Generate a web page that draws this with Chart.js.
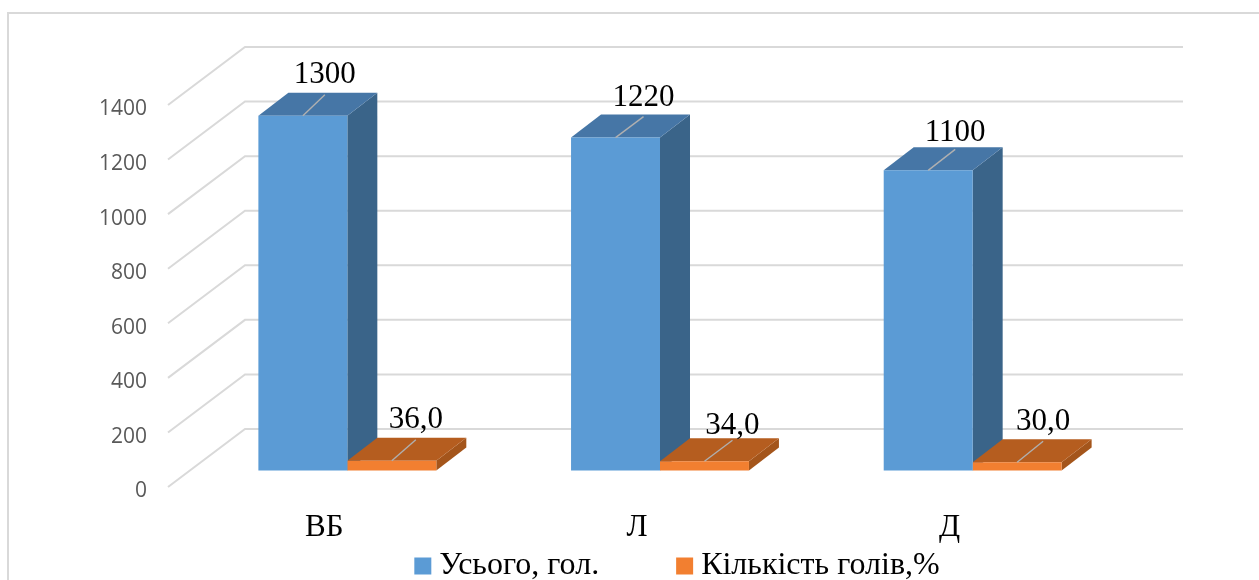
<!DOCTYPE html>
<html lang="uk">
<head>
<meta charset="utf-8">
<title>Поголів'я за групами</title>
<script src="https://cdn.jsdelivr.net/npm/chart.js@4/dist/chart.umd.js"></script>
<style>
  html, body { margin: 0; padding: 0; background: #fff; overflow: hidden; }
  canvas { display: block; }
</style>
</head>
<body>
<canvas id="chart" width="1259" height="580"></canvas>
<script>
const categories = ['ВБ', 'Л', 'Д'];
const seriesNames = ['Усього, гол.', 'Кількість голів,%'];
const totalHead = [1300, 1220, 1100];
const sharePercent = [36.0, 34.0, 30.0];
const yTicks = [0, 200, 400, 600, 800, 1000, 1200, 1400];

// Projection of the 3D box: the walls start slightly above the tick labels' plot
// line, then recede; the bars stand part-way into the box and have their own depth.
const FRONT_LIFT = -4.5;
const WALL_DEPTH = { dx: 77, dy: -58 };
const BAR_SHIFT = { dx: 23, dy: -16.5 + FRONT_LIFT };
const BAR_DEPTH = { dx: 30, dy: -23 };

const SERIF = '"Liberation Serif", "Times New Roman", serif';
const FACE_COLORS = [
  { front: '#5b9bd5', top: '#4676a6', side: '#3a6489' },
  { front: '#f27f30', top: '#b55d1f', side: '#a4551b' }
];
// Fine placement of each value label relative to its bar's front-top centre.
const LABEL_NUDGE = [
  [[22, -40.5], [28, -39.5], [27, -37.5]],
  [[24, -40.5], [28, -35.5], [26, -40.5]]
];

function poly(ctx, points, fill) {
  ctx.beginPath();
  points.forEach(([x, y], i) => (i ? ctx.lineTo(x, y) : ctx.moveTo(x, y)));
  ctx.closePath();
  ctx.fillStyle = fill;
  ctx.fill();
}

const box3d = {
  id: 'box3d',
  beforeDatasetsDraw(chart) {
    const { ctx, chartArea: a, scales: { y } } = chart;
    ctx.save();

    // Frame and receding gridlines.
    ctx.strokeStyle = '#d9d9d9';
    ctx.lineWidth = 2;
    ctx.beginPath();
    ctx.moveTo(8, 580);
    ctx.lineTo(8, 13);
    ctx.lineTo(1259, 13);
    ctx.stroke();
    yTicks.forEach(t => {
      const py = y.getPixelForValue(t) + FRONT_LIFT;
      ctx.beginPath();
      ctx.moveTo(a.left, py);
      ctx.lineTo(a.left + WALL_DEPTH.dx, py + WALL_DEPTH.dy);
      ctx.lineTo(a.right + WALL_DEPTH.dx, py + WALL_DEPTH.dy);
      ctx.stroke();
    });

    // Side and top faces, series by series, below every front face.
    ctx.translate(BAR_SHIFT.dx, BAR_SHIFT.dy);
    chart.data.datasets.forEach((ds, di) => {
      const colors = FACE_COLORS[di];
      chart.getDatasetMeta(di).data.forEach(bar => {
        const l = bar.x - bar.width / 2, r = bar.x + bar.width / 2;
        const t = bar.y, b = bar.base;
        const { dx, dy } = BAR_DEPTH;
        poly(ctx, [[r, t], [r + dx, t + dy], [r + dx, b + dy], [r, b]], colors.side);
        poly(ctx, [[l, t], [l + dx, t + dy], [r + dx, t + dy], [r, t]], colors.top);
      });
    });
    ctx.restore();
  },
  // Front faces are the library's own bars, moved into the box.
  beforeDatasetDraw(chart) {
    chart.ctx.save();
    chart.ctx.translate(BAR_SHIFT.dx, BAR_SHIFT.dy);
  },
  afterDatasetDraw(chart) {
    chart.ctx.restore();
  },
  // Leader lines and value labels go on top of the finished bars.
  afterDatasetsDraw(chart) {
    const { ctx } = chart;
    ctx.save();
    chart.data.datasets.forEach((ds, di) => {
      chart.getDatasetMeta(di).data.forEach((bar, i) => {
        const cx = bar.x + BAR_SHIFT.dx, top = bar.y + BAR_SHIFT.dy;
        const [nx, ny] = LABEL_NUDGE[di][i];
        ctx.strokeStyle = '#b0b0b0';
        ctx.lineWidth = 1.4;
        ctx.beginPath();
        ctx.moveTo(cx, top);
        ctx.lineTo(cx + nx, top - 21);
        ctx.stroke();
        ctx.fillStyle = '#000';
        ctx.font = '31px ' + SERIF;
        ctx.textAlign = 'center';
        ctx.textBaseline = 'middle';
        const v = ds.data[i];
        const text = di === 0 ? String(v) : v.toFixed(1).replace('.', ',');
        ctx.fillText(text, cx + nx, top + ny);
      });
    });
    ctx.restore();
  },
  // The legend is centred under the whole picture, low in the frame.
  afterLayout(chart) {
    const legend = chart.legend;
    legend.left += 128;
    legend.right += 128;
    legend.top = 565 - 85 - 15;
  }
};

new Chart(document.getElementById('chart'), {
  type: 'bar',
  data: {
    labels: categories,
    datasets: [
      { label: seriesNames[0], data: totalHead, backgroundColor: FACE_COLORS[0].front, clip: false },
      { label: seriesNames[1], data: sharePercent, backgroundColor: FACE_COLORS[1].front, clip: false }
    ]
  },
  options: {
    responsive: false,
    animation: false,
    events: [],
    layout: { padding: { left: 0, right: 153, top: 109.5, bottom: 0 } },
    datasets: { bar: { categoryPercentage: 0.569, barPercentage: 1 } },
    scales: {
      x: {
        grid: { display: false },
        border: { display: false },
        ticks: { color: '#000', font: { family: SERIF, size: 31 }, padding: 10 },
        afterFit(scale) { scale.height = 58.5; }
      },
      y: {
        min: 0,
        max: 1400,
        afterBuildTicks(scale) { scale.ticks = yTicks.map(value => ({ value })); },
        grid: { display: false },
        border: { display: false },
        ticks: {
          color: '#595959',
          font: { family: '"Open Sans"', size: 21 },
          padding: 13,
          callback: value => String(value)
        },
        afterFit(scale) { scale.width = 168; }
      }
    },
    plugins: {
      tooltip: { enabled: false },
      legend: {
        position: 'bottom',
        maxHeight: 30,
        labels: {
          color: '#000',
          font: { family: SERIF, size: 32 },
          usePointStyle: true,
          pointStyle: 'rect',
          boxWidth: 1,
          boxHeight: 17,
          padding: 85
        }
      }
    }
  },
  plugins: [box3d]
});
</script>
</body>
</html>
